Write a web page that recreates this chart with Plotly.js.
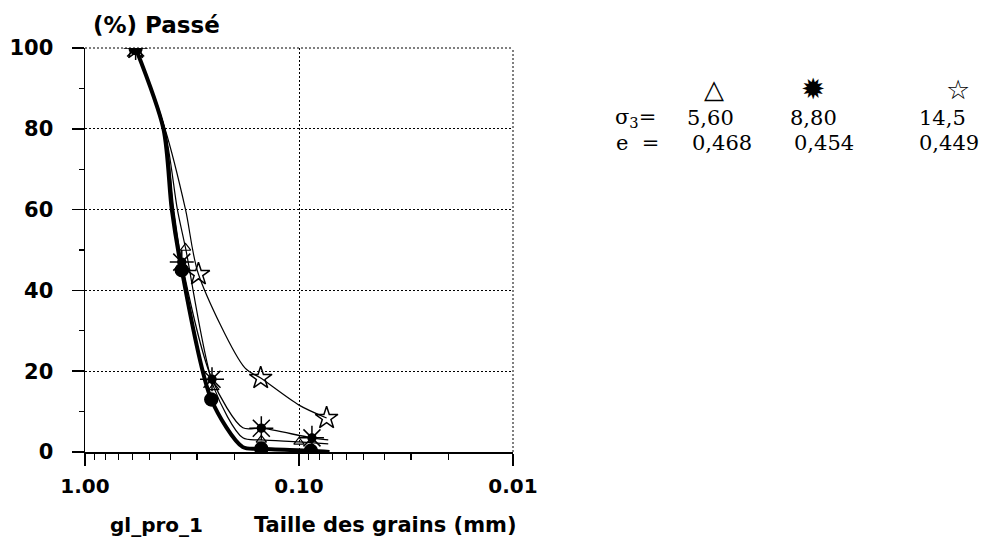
<!DOCTYPE html>
<html>
<head>
<meta charset="utf-8">
<script src="https://cdn.plot.ly/plotly-3.0.1.min.js"></script>
<style>
  html, body { margin: 0; padding: 0; background: #ffffff; }
  #chart { width: 984px; height: 540px; }
</style>
</head>
<body>
<div id="chart"></div>
<script>
// Grain-size curves (percentage passing vs. sieve size, mm).
// Each series lists the vertices of its curve; the *Marked flags tell
// which vertices are measured points carrying a symbol.

// Filled circles (heavy curve)
const dotSize   = [0.58, 0.43, 0.393, 0.353, 0.257, 0.183, 0.150, 0.088, 0.072];
const dotPass   = [100, 80, 60, 45, 13, 1.2, 0.8, 0.3, 0];
const dotMarked = [1, 0, 0, 1, 1, 0, 1, 1, 0];

// Triangles, sigma3 = 5,60
const triSize   = [0.58, 0.425, 0.37, 0.339, 0.25, 0.183, 0.150, 0.100, 0.073];
const triPass   = [100, 80, 60, 50.5, 16, 3.5, 3, 2.5, 2];
const triMarked = [1, 0, 0, 1, 1, 0, 1, 1, 0];

// Sun symbols, sigma3 = 8,80
const sunSize   = [0.58, 0.425, 0.385, 0.353, 0.255, 0.183, 0.150, 0.087, 0.073];
const sunPass   = [100, 80, 60, 47, 18, 6, 5.9, 3.5, 3];
const sunMarked = [1, 0, 0, 1, 1, 0, 1, 1, 0];

// Open stars, sigma3 = 14,5
const starSize   = [0.58, 0.423, 0.339, 0.295, 0.179, 0.151, 0.100, 0.0743];
const starPass   = [100, 80, 60, 44, 20.8, 18.3, 11.6, 8.4];
const starMarked = [1, 0, 0, 1, 0, 1, 0, 1];

// Axis ticks
const xTickVals = [1, 0.1, 0.01];
const xTickText = ['1.00', '0.10', '0.01'];
const yTickVals = [0, 20, 40, 60, 80, 100];

// Key on the right: symbol, confining stress and void ratio per test
const keySymbols = ['\u25B3', '\u2739', '\u2606'];
const keySigma   = ['5,60', '8,80', '14,5'];
const keyVoid    = ['0,468', '0,454', '0,449'];

const pick = (arr, flags) => arr.filter((_, i) => flags[i]);

// Plot area geometry in pixels
const L = 85, R = 471, T = 48, B = 88, W = 984, H = 540;
const PW = W - L - R, PH = H - T - B;
const px = x => (x - L) / PW;        // pixel -> paper x
const py = y => (H - B - y) / PH;    // pixel -> paper y

const ink = '#000000';
const sans = 'DejaVu Sans, Arial, sans-serif';
const serif = 'DejaVu Serif, Times New Roman, serif';

function curve(x, y, width) {
  return { x, y, type: 'scatter', mode: 'lines', hoverinfo: 'skip',
           line: { color: ink, width, shape: 'spline', smoothing: 0.8 }, showlegend: false };
}
function marks(x, y, symbol, size, lineWidth) {
  return { x, y, type: 'scatter', mode: 'markers', hoverinfo: 'skip', showlegend: false,
           marker: { symbol, size, color: ink, line: { color: ink, width: lineWidth || 1.4 } } };
}

const traces = [
  curve(starSize, starPass, 1.2),
  curve(triSize, triPass, 1.2),
  curve(sunSize, sunPass, 1.3),
  curve(dotSize, dotPass, 4),
  marks(pick(starSize, starMarked), pick(starPass, starMarked), 'star-open', 17, 1.5),
  marks(pick(triSize, triMarked), pick(triPass, triMarked), 'triangle-up-open', 9, 1.2),
  marks(pick(sunSize, sunMarked), pick(sunPass, sunMarked), 'asterisk-open', 20, 1.5),
  marks(pick(sunSize, sunMarked), pick(sunPass, sunMarked), 'circle', 8),
  marks(pick(dotSize, dotMarked), pick(dotPass, dotMarked), 'circle', 13)
];

function note(text, x, y, font, xanchor) {
  return { text, x: px(x), y: py(y), xref: 'paper', yref: 'paper',
           xanchor: xanchor || 'left', yanchor: 'middle', showarrow: false, font };
}
const boldSans = size => ({ family: sans, size, color: ink, weight: 'bold' });

const annotations = [
  note('(%) Passé', 91, 25, boldSans(23)),
  note('gl_pro_1', 156, 525, boldSans(20), 'center'),
  note('Taille des grains (mm)', 385, 525, boldSans(21), 'center')
];

// Key block
const symX = [714, 813, 958];
const symSize = [26, 29, 27];
const colX = [685, 788, 917];
const voidX = [690, 792, 917];
const keyFont = { family: serif, size: 21, color: ink };
keySymbols.forEach((s, i) => annotations.push(
  note(s, symX[i], 89, { family: sans, size: symSize[i], color: ink }, 'center')));
annotations.push(note('σ<sub>3</sub>=', 613, 118, keyFont));
annotations.push(note('e  =', 614, 143, keyFont));
keySigma.forEach((s, i) => annotations.push(note(s, colX[i], 118, keyFont)));
keyVoid.forEach((s, i) => annotations.push(note(s, voidX[i], 143, keyFont)));

// Dotted frame on the top and right edges (grid lines at 100 % and 0.01 mm)
const frameLine = { color: ink, width: 1, dash: '2px,2px' };
const shapes = [
  { type: 'line', xref: 'paper', yref: 'paper', x0: 0, x1: 1, y0: 1, y1: 1, line: frameLine },
  { type: 'line', xref: 'paper', yref: 'paper', x0: 1, x1: 1, y0: 0, y1: 1, line: frameLine }
];

const layout = {
  width: W, height: H,
  margin: { l: L, r: R, t: T, b: B, pad: 0 },
  paper_bgcolor: '#ffffff', plot_bgcolor: '#ffffff',
  showlegend: false,
  xaxis: {
    type: 'log', range: [0, -2],
    tickvals: xTickVals, ticktext: xTickText,
    ticks: 'outside', ticklen: 12, tickwidth: 1.5, tickcolor: ink,
    showline: true, linecolor: ink, linewidth: 1.5,
    showgrid: true, gridcolor: ink, griddash: '2px,2px', gridwidth: 1,
    zeroline: false, ticklabelstandoff: 3,
    tickfont: boldSans(20),
    minor: { ticks: 'outside', ticklen: 6, tickwidth: 1.2, tickcolor: ink, dtick: 'D1', showgrid: false }
  },
  yaxis: {
    range: [0, 100],
    tickvals: yTickVals,
    ticks: 'outside', ticklen: 12, tickwidth: 1.5, tickcolor: ink,
    showline: true, linecolor: ink, linewidth: 1.5,
    showgrid: true, gridcolor: ink, griddash: '2px,2px', gridwidth: 1,
    zeroline: false, ticklabelstandoff: 14,
    tickfont: boldSans(21),
    minor: { ticks: 'outside', ticklen: 5, tickwidth: 1.2, tickcolor: ink, dtick: 10, showgrid: false }
  },
  shapes,
  annotations
};

Plotly.newPlot('chart', traces, layout, { staticPlot: true, displayModeBar: false });
</script>
</body>
</html>
